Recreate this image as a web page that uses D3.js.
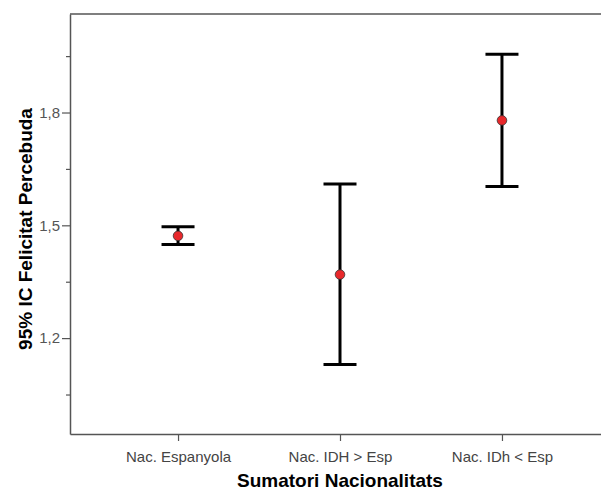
<!DOCTYPE html>
<html>
<head>
<meta charset="utf-8">
<script src="https://cdn.jsdelivr.net/npm/d3@7"></script>
<style>
  body { margin: 0; background: #fff; overflow: hidden; }
  svg { display: block; font-family: "Liberation Sans", Arial, sans-serif; }
</style>
</head>
<body>
<svg id="chart"></svg>
<script>
// categories and 95% CI values
const categories = ["Nac. Espanyola", "Nac. IDH > Esp", "Nac. IDh < Esp"];
const means = [1.472, 1.369, 1.779];
const lower = [1.449, 1.130, 1.603];
const upper = [1.496, 1.610, 1.955];
const majorTicks = [1.2, 1.5, 1.8];
const minorTicks = [1.05, 1.35, 1.65, 1.95];

const data = categories.map((c, i) => ({cat: c, mean: means[i], lo: lower[i], hi: upper[i]}));

const width = 601, height = 490;
const margin = {top: 14, right: -9, bottom: 56, left: 70};

const svg = d3.select("#chart")
    .attr("width", width)
    .attr("height", height);

const x = d3.scalePoint()
    .domain(categories)
    .range([margin.left, width - margin.right])
    .padding(0.667);

const y = d3.scaleLinear()
    .domain([0.945, 2.062])
    .range([height - margin.bottom, margin.top]);

const axisColor = "#555";

// top border of the frame (the right border falls outside the window)
svg.append("line")
    .attr("x1", margin.left).attr("x2", width)
    .attr("y1", margin.top).attr("y2", margin.top)
    .attr("stroke", axisColor)
    .attr("stroke-width", 1.5);

// y axis
const yAxis = svg.append("g")
    .attr("transform", `translate(${margin.left},0)`)
    .call(d3.axisLeft(y).tickValues(majorTicks).tickSize(8).tickSizeOuter(0).tickPadding(2)
        .tickFormat(d => d3.format(".1f")(d).replace(".", ",")));
yAxis.select(".domain").attr("stroke", axisColor).attr("stroke-width", 1.5);
yAxis.selectAll(".tick line").attr("stroke", axisColor).attr("stroke-width", 1.2);
yAxis.selectAll(".tick text")
    .attr("fill", "#555")
    .style("font-size", "15px");

svg.append("g")
    .attr("transform", `translate(${margin.left},0)`)
    .call(d3.axisLeft(y).tickValues(minorTicks).tickSize(4).tickFormat(""))
    .call(g => g.select(".domain").remove())
    .selectAll(".tick line").attr("stroke", axisColor).attr("stroke-width", 1.2);

// x axis
const xAxis = svg.append("g")
    .attr("transform", `translate(0,${height - margin.bottom})`)
    .call(d3.axisBottom(x).tickSize(7).tickSizeOuter(0).tickPadding(10));
xAxis.select(".domain").attr("stroke", axisColor).attr("stroke-width", 1.5);
xAxis.selectAll(".tick line").attr("stroke", axisColor).attr("stroke-width", 1.2);
xAxis.selectAll(".tick text")
    .attr("fill", "#444")
    .style("font-size", "15px");

// error bars
const capW = 33;
const bars = svg.append("g").selectAll("g").data(data).enter().append("g");

bars.append("line")
    .attr("x1", d => x(d.cat)).attr("x2", d => x(d.cat))
    .attr("y1", d => y(d.hi)).attr("y2", d => y(d.lo))
    .attr("stroke", "#000").attr("stroke-width", 3);

bars.append("line")
    .attr("x1", d => x(d.cat) - capW / 2).attr("x2", d => x(d.cat) + capW / 2)
    .attr("y1", d => y(d.hi)).attr("y2", d => y(d.hi))
    .attr("stroke", "#000").attr("stroke-width", 3);

bars.append("line")
    .attr("x1", d => x(d.cat) - capW / 2).attr("x2", d => x(d.cat) + capW / 2)
    .attr("y1", d => y(d.lo)).attr("y2", d => y(d.lo))
    .attr("stroke", "#000").attr("stroke-width", 3);

bars.append("circle")
    .attr("cx", d => x(d.cat))
    .attr("cy", d => y(d.mean))
    .attr("r", 4.8)
    .attr("fill", "#e8282b")
    .attr("stroke", "#333")
    .attr("stroke-width", 0.8);

// axis titles
svg.append("text")
    .attr("x", x(categories[1]))
    .attr("y", 487)
    .attr("text-anchor", "middle")
    .style("font-size", "19px")
    .style("font-weight", "bold")
    .text("Sumatori Nacionalitats");

svg.append("text")
    .attr("transform", `translate(32,${229}) rotate(-90)`)
    .attr("text-anchor", "middle")
    .style("font-size", "19px")
    .style("font-weight", "bold")
    .text("95% IC Felicitat Percebuda");
</script>
</body>
</html>
